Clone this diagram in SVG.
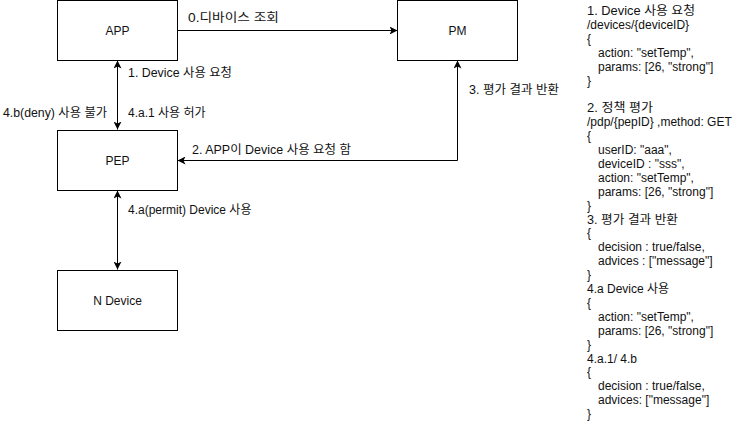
<svg xmlns="http://www.w3.org/2000/svg" width="746" height="422" viewBox="0 0 746 422">
<defs>
<style>
.box{fill:#fff;stroke:#000;stroke-width:1}
.edge{fill:none;stroke:#000;stroke-width:1}
.t{font-family:"Liberation Sans","Noto Sans CJK KR",sans-serif;font-size:12px;fill:#111}
.c{text-anchor:middle}
</style>
<marker id="ah" viewBox="0 0 10 10" refX="10" refY="5" markerWidth="8" markerHeight="8" markerUnits="userSpaceOnUse" orient="auto-start-reverse">
<path d="M0,0 L10,5 L0,10 L2.5,5 Z" fill="#000"/>
</marker>
</defs>
<rect width="746" height="422" fill="#fff"/>
<g id="connectors">
<path class="edge" d="M177.5,30.5 H397.5" marker-end="url(#ah)"/>
<path class="edge" d="M117.5,60.5 V129.5" marker-start="url(#ah)" marker-end="url(#ah)"/>
<path class="edge" d="M457.5,60.5 V160.5 H177.5" marker-start="url(#ah)" marker-end="url(#ah)"/>
<path class="edge" d="M117.5,190.5 V269.5" marker-start="url(#ah)" marker-end="url(#ah)"/>
<text class="t" x="188" y="22" textLength="91" lengthAdjust="spacingAndGlyphs">0.디바이스 조회</text>
<text class="t" x="128" y="77" textLength="104" lengthAdjust="spacingAndGlyphs">1. Device 사용 요청</text>
<text class="t" x="3" y="117" textLength="104" lengthAdjust="spacingAndGlyphs">4.b(deny) 사용 불가</text>
<text class="t" x="128" y="117">4.a.1 사용 허가</text>
<text class="t" x="192" y="154" textLength="159" lengthAdjust="spacingAndGlyphs">2. APP이 Device 사용 요청 함</text>
<text class="t" x="469" y="94" textLength="90" lengthAdjust="spacingAndGlyphs">3. 평가 결과 반환</text>
<text class="t" x="128" y="214">4.a(permit) Device 사용</text>
</g>
<g id="node-app">
<rect class="box" x="57.5" y="0.5" width="120" height="60"/>
<text class="t c" x="117.5" y="34.5">APP</text>
</g>
<g id="node-pm">
<rect class="box" x="397.5" y="0.5" width="120" height="60"/>
<text class="t c" x="457.5" y="34.5">PM</text>
</g>
<g id="node-pep">
<rect class="box" x="57.5" y="130.5" width="120" height="60"/>
<text class="t c" x="117.5" y="164.5">PEP</text>
</g>
<g id="node-ndevice">
<rect class="box" x="57.5" y="270.5" width="120" height="60"/>
<text class="t c" x="117.5" y="304.5">N Device</text>
</g>
<g id="notes" class="t">
<text x="587" y="15" textLength="108" lengthAdjust="spacingAndGlyphs">1. Device 사용 요청</text>
<text x="587" y="28.9">/devices/{deviceID}</text>
<text x="587" y="42.8">{</text>
<text x="598" y="56.7">action: "setTemp",</text>
<text x="598" y="70.6">params: [26, "strong"]</text>
<text x="587" y="84.5">}</text>
<text x="587" y="112.3" textLength="66" lengthAdjust="spacingAndGlyphs">2. 정책 평가</text>
<text x="587" y="126.2">/pdp/{pepID} ,method: GET</text>
<text x="587" y="140.1">{</text>
<text x="598" y="154">userID: "aaa",</text>
<text x="598" y="167.9">deviceID : "sss",</text>
<text x="598" y="181.8">action: "setTemp",</text>
<text x="598" y="195.7">params: [26, "strong"]</text>
<text x="587" y="209.6">}</text>
<text x="587" y="223.5" textLength="91" lengthAdjust="spacingAndGlyphs">3. 평가 결과 반환</text>
<text x="587" y="237.4">{</text>
<text x="598" y="251.3">decision : true/false,</text>
<text x="598" y="265.2">advices : ["message"]</text>
<text x="587" y="279.1">}</text>
<text x="587" y="293">4.a Device 사용</text>
<text x="587" y="306.9">{</text>
<text x="598" y="320.8">action: "setTemp",</text>
<text x="598" y="334.7">params: [26, "strong"]</text>
<text x="587" y="348.6">}</text>
<text x="587" y="362.5">4.a.1/ 4.b</text>
<text x="587" y="376.4">{</text>
<text x="598" y="390.3">decision : true/false,</text>
<text x="598" y="404.2">advices: ["message"]</text>
<text x="587" y="418.1">}</text>
</g>
</svg>
